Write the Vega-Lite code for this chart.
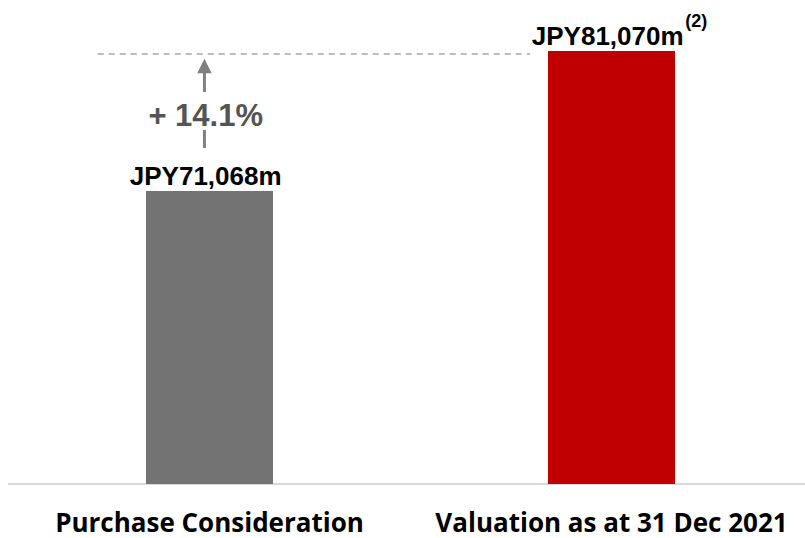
{
  "$schema": "https://vega.github.io/schema/vega-lite/v6.json",
  "autosize": "none",
  "width": 797,
  "height": 484,
  "padding": {"left": 8, "right": 0, "top": 0, "bottom": 54},
  "background": "white",
  "config": {"view": {"stroke": null}},
  "datasets": {
    "bars": [
      {"category": "Purchase Consideration", "value": 71068, "label": "JPY71,068m"},
      {"category": "Valuation as at 31 Dec 2021", "value": 81070, "label": "JPY81,070m"}
    ],
    "segments": [
      {"category": "Purchase Consideration", "y": 79499, "y2": 78141},
      {"category": "Purchase Consideration", "y": 75426, "y2": 74141}
    ],
    "arrowhead": [
      {"category": "Purchase Consideration", "y": 80000}
    ],
    "pct": [
      {"category": "Purchase Consideration", "y": 76355, "text": "+ 14.1%"}
    ],
    "note": [
      {"category": "Valuation as at 31 Dec 2021", "value": 81070, "text": "(2)"}
    ],
    "refline": [
      {"from": "Purchase Consideration", "to": "Valuation as at 31 Dec 2021", "y": 80860}
    ],
    "base": [{"y": 50136}]
  },
  "layer": [
    {
      "data": {"name": "base"},
      "mark": {"type": "rule", "color": "#d9d9d9", "strokeWidth": 2},
      "encoding": {"y": {"field": "y", "type": "quantitative", "scale": {"domain": [50136, 84714], "zero": false, "nice": false, "clamp": true}, "axis": null}}
    },
    {
      "data": {"name": "bars"},
      "mark": {"type": "bar"},
      "encoding": {
        "x": {
          "field": "category", "type": "nominal", "sort": null,
          "scale": {"domain": ["Purchase Consideration", "Valuation as at 31 Dec 2021"], "range": [138, 667], "paddingInner": 0.684, "paddingOuter": 0},
          "axis": {"title": null, "domain": false, "ticks": false, "labelAngle": 0, "labelFont": "Open Sans", "labelFontWeight": "bold", "labelFontSize": 26, "labelColor": "#000000", "labelPadding": 26, "labelLimit": 0}
        },
        "y": {
          "field": "value", "type": "quantitative",
          "axis": null
        },
        "color": {
          "field": "category", "type": "nominal",
          "scale": {"domain": ["Purchase Consideration", "Valuation as at 31 Dec 2021"], "range": ["#737373", "#C00000"]},
          "legend": null
        }
      }
    },
    {
      "data": {"name": "refline"},
      "mark": {"type": "rule", "color": "#a6a6a6", "strokeWidth": 1.5, "strokeDash": [6, 5]},
      "encoding": {
        "x": {"field": "from", "type": "nominal", "bandPosition": -0.38},
        "x2": {"field": "to", "bandPosition": -0.14},
        "y": {"field": "y", "type": "quantitative"}
      }
    },
    {
      "data": {"name": "segments"},
      "mark": {"type": "rule", "color": "#808080", "strokeWidth": 3},
      "encoding": {
        "x": {"field": "category", "type": "nominal", "bandPosition": 0.46},
        "y": {"field": "y", "type": "quantitative"},
        "y2": {"field": "y2"}
      }
    },
    {
      "data": {"name": "arrowhead"},
      "mark": {"type": "point", "shape": "M -1 1 L 0 -1 L 1 1 Z", "filled": true, "color": "#808080", "opacity": 1, "size": 210},
      "encoding": {
        "x": {"field": "category", "type": "nominal", "bandPosition": 0.46},
        "y": {"field": "y", "type": "quantitative"}
      }
    },
    {
      "data": {"name": "pct"},
      "mark": {"type": "text", "font": "Liberation Sans", "fontWeight": "bold", "fontSize": 31, "color": "#545454", "baseline": "middle", "align": "center"},
      "encoding": {
        "x": {"field": "category", "type": "nominal", "bandPosition": 0.47},
        "y": {"field": "y", "type": "quantitative"},
        "text": {"field": "text"}
      }
    },
    {
      "data": {"name": "bars"},
      "mark": {"type": "text", "font": "Liberation Sans", "fontWeight": "bold", "fontSize": 26, "color": "#000000", "baseline": "middle", "align": "center", "dy": -14},
      "encoding": {
        "x": {"field": "category", "type": "nominal", "bandPosition": 0.47},
        "y": {"field": "value", "type": "quantitative"},
        "text": {"field": "label"}
      }
    },
    {
      "data": {"name": "note"},
      "mark": {"type": "text", "font": "Liberation Sans", "fontWeight": "bold", "fontSize": 18, "color": "#000000", "baseline": "middle", "align": "left", "dy": -29},
      "encoding": {
        "x": {"field": "category", "type": "nominal", "bandPosition": 1.08},
        "y": {"field": "value", "type": "quantitative"},
        "text": {"field": "text"}
      }
    }
  ]
}
